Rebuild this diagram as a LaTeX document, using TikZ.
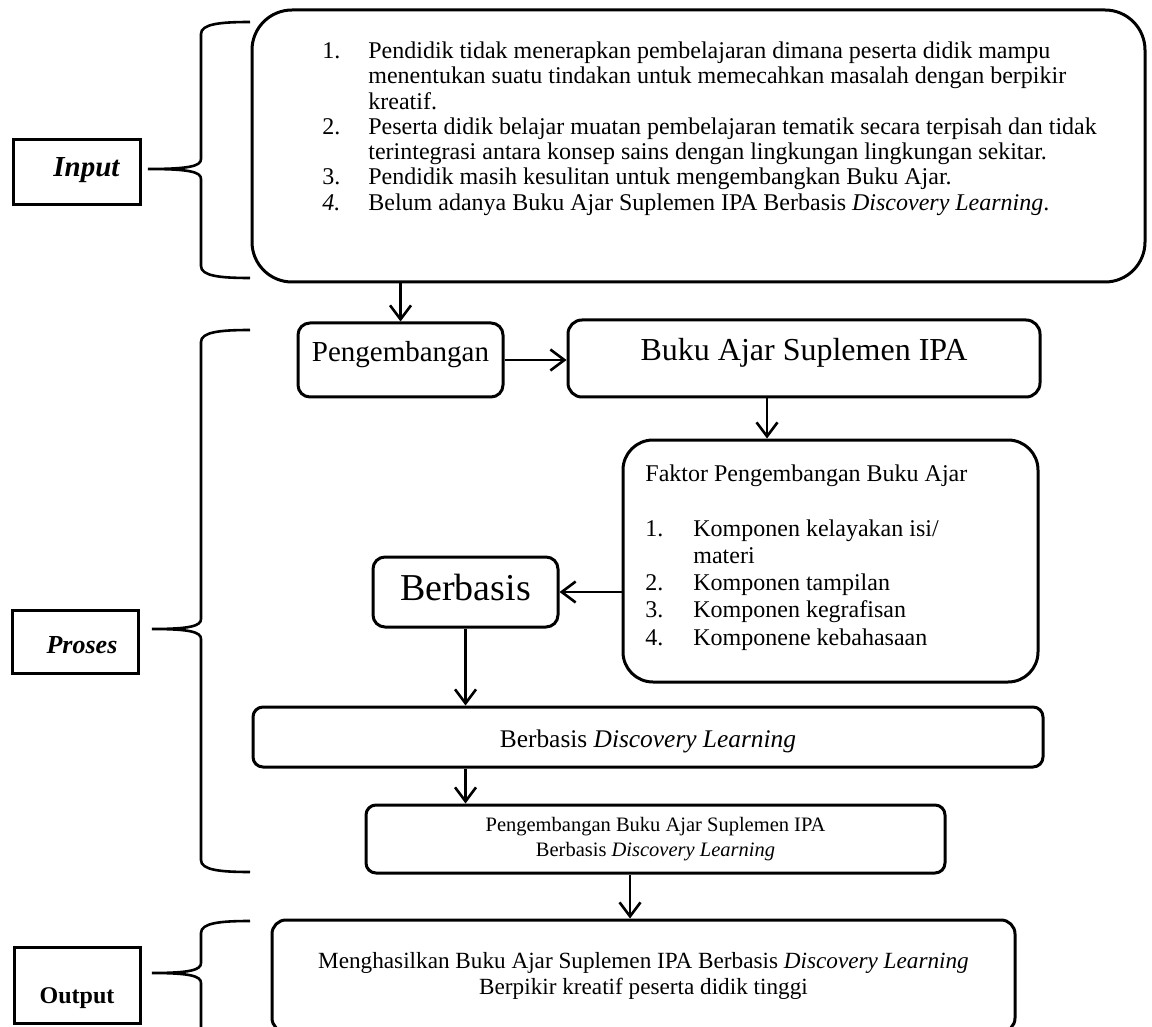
\documentclass[tikz,border=0pt]{standalone}
\usepackage{fontspec}
\setmainfont{Liberation Serif}
\usetikzlibrary{arrows.meta}
\tikzset{kotak/.style={draw=black, line width=1.5pt, rounded corners=#1, inner sep=0pt},
  kotak/.default=6pt,
  judul/.style={draw=black, line width=1.5pt, inner sep=0pt},
  isi/.style={inner sep=0pt, anchor=north west},
  panah/.style={line width=1.3pt, -{Straight Barb[length=7pt,width=10.5pt,line width=1.3pt]}},
  kurung/.style={line width=1.3pt}}
% kurung kurawal: atas, ujung, bawah, x ujung
\newcommand{\kurawal}[4]{%
  \draw[kurung] (250,#1) .. controls (220,#1) and (201,#1+2) .. (201,#1+12) -- (201,#2-10)
    .. controls (201,#2-3) and (190,#2) .. (#4,#2) .. controls (190,#2) and (201,#2+3) .. (201,#2+10)
    -- (201,#3-12) .. controls (201,#3-2) and (220,#3) .. (250,#3);}

\begin{document}
\begin{tikzpicture}[x=0.5pt, y=-0.5pt]
\useasboundingbox (0,0) rectangle (1152,1027);
\clip (0,0) rectangle (1152,1027);

% label kiri
\node[judul, minimum width=63.5pt, text height=18.5pt, text depth=14pt,
  font=\fontsize{14.5}{16}\selectfont\bfseries\itshape] (lin) at (76.5,172.5) {\hspace*{10pt}Input};
\node[judul, minimum width=63pt, text height=21.5pt, text depth=10pt,
  font=\fontsize{13}{15}\selectfont\bfseries\itshape] (lpr) at (75,641.5) {\hspace*{7pt}Proses};
\node[judul, minimum width=63pt, text height=28pt, text depth=10pt,
  font=\fontsize{12}{14}\selectfont\bfseries] (lout) at (77,985) {Output};

\kurawal{22}{169}{278}{148}
\kurawal{330}{629}{872}{152}
\kurawal{921}{973}{1045}{152}

% input
\node[kotak=20pt, minimum width=446.5pt, minimum height=136pt] (masalah) at (698.5,146) {};
\node[isi, font=\fontsize{12}{12.65}\selectfont] (tmasalah) at (322,40.3) {%
  \begin{tabular}{@{}p{23pt}@{}l@{}}
  1. & Pendidik tidak menerapkan pembelajaran dimana peserta didik mampu\\
     & menentukan suatu tindakan untuk memecahkan masalah dengan berpikir\\
     & kreatif.\\
  2. & Peserta didik belajar muatan pembelajaran tematik secara terpisah dan tidak\\
     & terintegrasi antara konsep sains dengan lingkungan lingkungan sekitar.\\
  3. & Pendidik masih kesulitan untuk mengembangkan Buku Ajar.\\
  \textit{4.} & Belum adanya Buku Ajar Suplemen IPA Berbasis \textit{Discovery Learning}.\\
  \end{tabular}};

% proses
\node[kotak, minimum width=102.5pt, text height=19.5pt, text depth=17.5pt,
  font=\fontsize{14.5}{16}\selectfont] (peng) at (400.5,360) {Pengembangan};
\node[kotak=7pt, minimum width=236pt, text height=20.5pt, text depth=18pt,
  font=\fontsize{16}{18}\selectfont] (buku) at (804,358.5) {Buku Ajar Suplemen IPA};
\node[kotak=15pt, minimum width=207.5pt, minimum height=121pt] (faktor) at (830.5,561) {};
\node[isi, font=\fontsize{12}{13.65}\selectfont] (tfaktor) at (645,461.9) {%
  \begin{tabular}{@{}p{24pt}@{}l@{}}
  \multicolumn{2}{@{}l@{}}{Faktor Pengembangan Buku Ajar}\\
  \\
  1. & Komponen kelayakan isi/\\
     & materi\\
  2. & Komponen tampilan\\
  3. & Komponen kegrafisan\\
  4. & Komponene kebahasaan\\
  \end{tabular}};
\node[kotak, minimum width=92.5pt, text height=21.5pt, text depth=13.5pt,
  font=\fontsize{19}{22}\selectfont] (berbasis) at (465.5,592) {Berbasis};
\node[kotak=5pt, minimum width=395pt, text height=20pt, text depth=10pt,
  font=\fontsize{12.7}{15}\selectfont] (bdl) at (648,737) {Berbasis \textit{Discovery Learning}};
\node[kotak=5pt, minimum width=289.5pt, minimum height=34pt, align=center,
  font=\fontsize{10.25}{12.5}\selectfont] (pbaj) at (655.5,839)
  {Pengembangan Buku Ajar Suplemen IPA\\Berbasis \textit{Discovery Learning}};

% output
\node[kotak=7pt, minimum width=371.5pt, minimum height=56pt, align=center,
  font=\fontsize{11.6}{13}\selectfont] (hasil) at (643.5,976)
  {Menghasilkan Buku Ajar Suplemen IPA Berbasis \textit{Discovery Learning}\\Berpikir kreatif peserta didik tinggi};

% panah
\draw[panah] (peng.north |- masalah.south) -- (peng.north);
\draw[panah] (peng.east) -- (peng.east -| buku.west);
\coordinate (tb) at ([xshift=-18.5pt]buku.south);
\draw[panah] (tb) -- (tb |- faktor.north);
\draw[panah] (berbasis.east -| faktor.west) -- (berbasis.east);
\draw[panah] (berbasis.south) -- (berbasis.south |- bdl.north);
\draw[panah] (berbasis.south |- bdl.south) -- (berbasis.south |- pbaj.north);
\coordinate (tp) at ([xshift=-12.75pt]pbaj.south);
\draw[panah] (tp) -- (tp |- hasil.north);
\end{tikzpicture}
\end{document}
